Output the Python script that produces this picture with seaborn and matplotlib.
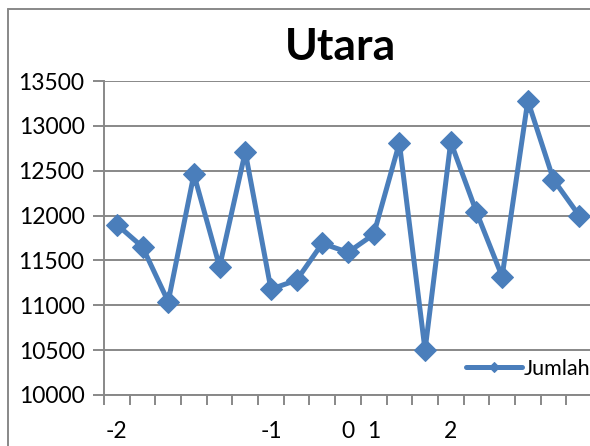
import numpy as np
import pandas as pd
import matplotlib
matplotlib.use("Agg")
import matplotlib.pyplot as plt
from matplotlib.lines import Line2D
from matplotlib.ticker import FixedLocator
import seaborn as sns

# data
categories = ["-2", "", "", "", "", "", "-1", "", "", "0",
              "1", "", "", "2", "", "", "", "", ""]
jumlah = [11900, 11650, 11040, 12460, 11430, 12710, 11180, 11280, 11690, 11590,
          11790, 12810, 10500, 12820, 12040, 11320, 13280, 12400, 12000]
y_ticks = [10000, 10500, 11000, 11500, 12000, 12500, 13000, 13500]

sns.set_style("white")
plt.rcParams['font.family'] = ['Lato', 'DejaVu Sans']
plt.rcParams['text.color'] = 'black'
plt.rcParams['xtick.labelcolor'] = 'black'
plt.rcParams['ytick.labelcolor'] = 'black'

grey = "#888888"
blue = "#4A7EBB"

df = pd.DataFrame({"pos": np.arange(len(jumlah)), "Jumlah": jumlah})

fig = plt.figure(figsize=(5.9, 4.46), dpi=100)
ax = fig.add_axes([104 / 590, 51 / 446, 488 / 590, 314 / 446])

sns.lineplot(data=df, x="pos", y="Jumlah", ax=ax, color=blue, linewidth=3.6,
             marker="D", markersize=11, markeredgecolor=blue, label="Jumlah")

ax.set_xlim(-0.5, len(jumlah) - 0.5)
ax.set_ylim(10000, 13500)
ax.set_yticks(y_ticks)
ax.set_yticklabels([str(v) for v in y_ticks], fontsize=16.5)
ax.set_xticks(df["pos"])
ax.set_xticklabels(categories, fontsize=16.5)
ax.xaxis.set_minor_locator(FixedLocator(np.arange(-0.5, len(jumlah), 1.0)))
ax.tick_params(axis="x", which="major", length=0, pad=19)
ax.tick_params(axis="x", which="minor", length=7, width=1.4, color=grey, direction="out", bottom=True)
ax.tick_params(axis="y", length=8, width=1.4, color=grey, pad=6, left=True)
ax.grid(axis="y", color=grey, linewidth=1.4)
ax.set_axisbelow(True)
ax.set_xlabel("")
ax.set_ylabel("")
for s in ["top", "right"]:
    ax.spines[s].set_visible(False)
for s in ["left", "bottom"]:
    ax.spines[s].set_color(grey)
    ax.spines[s].set_linewidth(1.4)

ax.legend(loc="center left", bbox_to_anchor=(466 / 590, 1 - 369 / 446),
          bbox_transform=fig.transFigure, frameon=False, fontsize=15.5,
          handlelength=2.6, handletextpad=0.1, borderpad=0, borderaxespad=0,
          markerscale=0.5, labelcolor="black")

fig.text(341 / 590, 1 - 47 / 446, "Utara", ha="center", va="center",
         fontsize=32, fontweight="bold", color="black")

# chart area border (left and top, the rest is cut off)
fig.add_artist(Line2D([8 / 590, 8 / 590], [0, 1 - 9 / 446], transform=fig.transFigure,
                      color=grey, linewidth=1.4))
fig.add_artist(Line2D([8 / 590, 1], [1 - 9 / 446, 1 - 9 / 446], transform=fig.transFigure,
                      color=grey, linewidth=1.4))

fig.savefig("out.png", dpi=100)
